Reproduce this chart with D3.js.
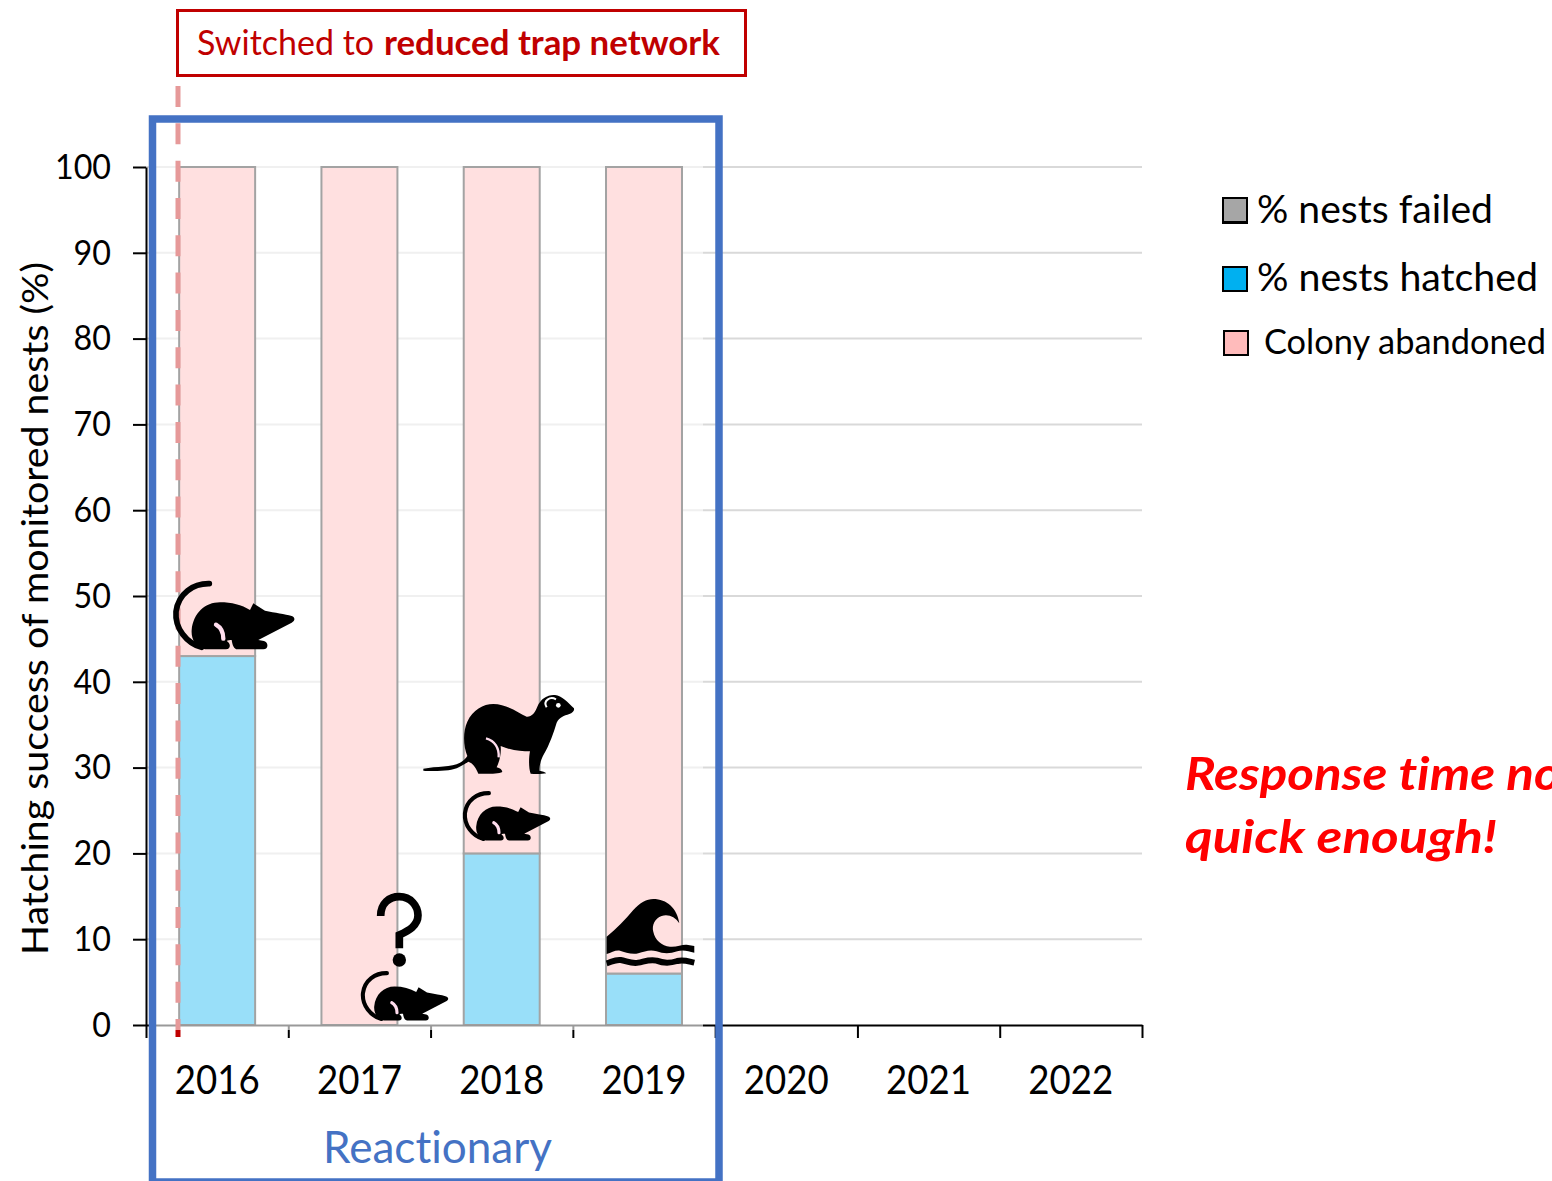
<!DOCTYPE html>
<html>
<head>
<meta charset="utf-8">
<script src="https://cdn.jsdelivr.net/npm/d3@7"></script>
<style>
html, body { margin: 0; padding: 0; background: #fff; overflow: hidden; }
svg { display: block; font-family: Lato, "Open Sans", sans-serif; font-variant-ligatures: none; }
</style>
</head>
<body>
<div id="chart"></div>
<script>
// chart values
const years = ["2016", "2017", "2018", "2019", "2020", "2021", "2022"];
const hatched = [43, 0, 20, 6, null, null, null];
const abandoned = [57, 100, 80, 94, null, null, null];
const failed = [0, 0, 0, 0, null, null, null];
const yTicks = [0, 10, 20, 30, 40, 50, 60, 70, 80, 90, 100];
const legendLabels = ["% nests failed", "% nests hatched", "Colony abandoned"];
const legendColors = ["#a6a6a6", "#00b0f0", "#ffbbbb"];
const legendWidths = [236, 281, 282];

var width = 1552;
var height = 1181;
var plot = { top: 167, right: 1142, bottom: 1025, left: 146 };

const svg = d3.select("#chart")
    .append("svg")
    .attr("width", width)
    .attr("height", height);

var xScale = d3.scaleBand()
    .domain(years)
    .range([plot.left, plot.right])
    .paddingInner(0.466)
    .paddingOuter(0.233);

var edgeScale = d3.scaleLinear()
    .domain([0, years.length])
    .range([plot.left, plot.right]);

var yScale = d3.scaleLinear()
    .domain([0, 100])
    .range([plot.bottom, plot.top]);

// squeeze Lato to the width of the original label
function fit(sel, len) {
    sel.attr("textLength", len).attr("lengthAdjust", "spacingAndGlyphs");
}

// gridlines
svg.append("g")
    .selectAll("line")
    .data(yTicks.slice(1))
    .enter()
    .append("line")
    .attr("x1", plot.left)
    .attr("x2", plot.right)
    .attr("y1", d => yScale(d))
    .attr("y2", d => yScale(d))
    .attr("stroke", "#d9d9d9")
    .attr("stroke-width", 2);

// stacked bars
var series = [
    { values: failed, fill: "#a6a6a6", base: () => 0 },
    { values: hatched, fill: "#00b0f0", base: i => failed[i] },
    { values: abandoned, fill: "#ffb2b2", base: i => failed[i] + hatched[i] }
];
series.forEach(function (s) {
    svg.append("g")
        .selectAll("rect")
        .data(years.filter((d, i) => s.values[i] > 0))
        .enter()
        .append("rect")
        .attr("x", d => xScale(d))
        .attr("width", xScale.bandwidth())
        .attr("y", d => {
            let i = years.indexOf(d);
            return yScale(s.base(i) + s.values[i]);
        })
        .attr("height", d => {
            let i = years.indexOf(d);
            return yScale(s.base(i)) - yScale(s.base(i) + s.values[i]);
        })
        .attr("fill", s.fill)
        .attr("stroke", "#1a1a1a")
        .attr("stroke-width", 2);
});

// axes
var yAxis = d3.axisLeft(yScale).tickValues(yTicks).tickSize(13).tickSizeOuter(0).tickPadding(22);
var yG = svg.append("g")
    .attr("transform", "translate(" + plot.left + ",0)")
    .call(yAxis);
yG.selectAll("text").attr("font-size", 35).attr("fill", "#000").style("font-family", "Lato");
yG.selectAll("text").each(function (d) { d3.select(this).call(fit, d == 100 ? 56 : d == 0 ? 18.7 : 37.4); });
yG.selectAll("line, path").attr("stroke", "#000").attr("stroke-width", 2);

var edgeAxis = d3.axisBottom(edgeScale).ticks(years.length).tickSize(13).tickSizeOuter(0).tickFormat("");
var xG = svg.append("g")
    .attr("transform", "translate(0," + plot.bottom + ")")
    .call(edgeAxis);
xG.selectAll("line, path").attr("stroke", "#000").attr("stroke-width", 2);

svg.append("g")
    .selectAll("text")
    .data(years)
    .enter()
    .append("text")
    .attr("x", d => xScale(d) + xScale.bandwidth() / 2)
    .attr("y", 1094)
    .attr("text-anchor", "middle")
    .attr("font-size", 40)
    .attr("fill", "#000")
    .text(d => d)
    .call(fit, 85);

svg.append("text")
    .attr("transform", "translate(48,608.5) rotate(-90)")
    .attr("text-anchor", "middle")
    .attr("font-size", 36)
    .attr("fill", "#000")
    .text("Hatching success of monitored nests (%)")
    .call(fit, 693);

// dashed marker for the switch
svg.append("line")
    .attr("x1", 178).attr("x2", 178)
    .attr("y1", 86).attr("y2", 1037)
    .attr("stroke", "#c00000")
    .attr("stroke-width", 5)
    .attr("stroke-dasharray", "21 16.32");

// white veil over the reactionary years
svg.append("rect")
    .attr("x", 153).attr("y", 78)
    .attr("width", 550).attr("height", 952)
    .attr("fill", "#fff")
    .attr("fill-opacity", 0.6);

// blue box
svg.append("rect")
    .attr("x", 152.5).attr("y", 119)
    .attr("width", 566.5).attr("height", 1063)
    .attr("fill", "none")
    .attr("stroke", "#4472c4")
    .attr("stroke-width", 7.5);

svg.append("text")
    .attr("x", 323).attr("y", 1163)
    .attr("font-size", 44)
    .attr("fill", "#4472c4")
    .text("Reactionary")
    .call(fit, 229);

// note box
svg.append("rect")
    .attr("x", 177.5).attr("y", 10.5)
    .attr("width", 568).attr("height", 65)
    .attr("fill", "#fff")
    .attr("stroke", "#c00000")
    .attr("stroke-width", 3);
svg.append("text")
    .attr("x", 197).attr("y", 55)
    .attr("font-size", 34)
    .attr("fill", "#c00000")
    .text("Switched to")
    .call(fit, 177);
svg.append("text")
    .attr("x", 384).attr("y", 55)
    .attr("font-size", 34)
    .attr("font-weight", 700)
    .attr("fill", "#c00000")
    .text("reduced trap network")
    .call(fit, 336);

// legend
var legend = svg.append("g")
    .selectAll("g")
    .data(legendLabels)
    .enter()
    .append("g");
legend.append("rect")
    .attr("x", (d, i) => i == 2 ? 1224 : 1223)
    .attr("y", (d, i) => [198, 267, 331][i])
    .attr("width", 24)
    .attr("height", 24)
    .attr("fill", (d, i) => legendColors[i])
    .attr("stroke", "#000")
    .attr("stroke-width", 2);
legend.append("text")
    .attr("x", (d, i) => i == 2 ? 1264 : 1257)
    .attr("y", (d, i) => [223, 291, 354][i])
    .attr("font-size", (d, i) => i == 2 ? 34 : 39)
    .attr("fill", "#000")
    .text(d => d)
    .each(function (d, i) { d3.select(this).call(fit, legendWidths[i]); });
// heavier bottom edge on the grey swatch
svg.append("line")
    .attr("x1", 1222).attr("x2", 1248)
    .attr("y1", 222.5).attr("y2", 222.5)
    .attr("stroke", "#000")
    .attr("stroke-width", 3);

// comment on the right, runs off the page like the original
svg.append("text")
    .attr("x", 1185).attr("y", 790)
    .attr("font-size", 46)
    .attr("font-weight", 700)
    .attr("font-style", "italic")
    .attr("fill", "#ff0000")
    .text("Response time not")
    .call(fit, 394);
svg.append("text")
    .attr("x", 1185).attr("y", 853)
    .attr("font-size", 46)
    .attr("font-weight", 700)
    .attr("font-style", "italic")
    .attr("fill", "#ff0000")
    .text("quick enough!")
    .call(fit, 312);

// icons, outlines traced at 3x
var ratBody = "M225,268 C195,262 183,235 185,210 C190,160 225,127 270,127 C305,127 335,135 360,150 L370,130 L405,152 C435,158 465,162 485,168 C496,172 496,182 485,188 L385,240 L402,243 C416,247 416,268 400,268 L322,268 C312,268 307,255 305,240 C300,240 293,240 290,243 C303,250 303,268 288,268 Z";
var ratTail = "M238,71 C190,70 145,100 138,155 C134,205 170,250 215,262";
var ratLeg = "M258,194 C272,202 280,215 280,236";

function drawRat(tx, ty, s) {
    let g = svg.append("g").attr("transform", "translate(" + tx + "," + ty + ") scale(" + s + ")");
    g.append("path").attr("d", ratTail).attr("fill", "none").attr("stroke", "#000")
        .attr("stroke-width", 17).attr("stroke-linecap", "round");
    g.append("path").attr("d", ratBody).attr("fill", "#000");
    g.append("path").attr("d", ratLeg).attr("fill", "none").attr("stroke", "#fde")
        .attr("stroke-width", 13).attr("stroke-linecap", "round");
}
drawRat(130, 560, 1 / 3);
drawRat(431.8, 776.1, 0.24);
drawRat(329.8, 956.1, 0.24);

// ferret, coords from the crop at (410,680)
var ferret = svg.append("g").attr("transform", "translate(410,680) scale(0.3333)");
ferret.append("path")
    .attr("d", "M40,266 C80,258 125,262 150,248 C160,243 168,235 172,228 C160,200 158,155 172,125 C188,90 220,72 250,72 C290,72 325,98 350,110 C365,111 375,98 382,80 C392,55 415,43 435,45 C455,47 475,68 492,85 C494,92 487,99 478,102 C462,107 448,112 440,128 C432,155 418,195 402,222 C392,240 388,258 388,272 C398,274 405,276 409,280 C395,283 375,283 362,281 C356,265 356,235 360,214 C335,214 305,212 272,198 C274,218 270,240 260,262 C270,264 277,270 277,276 C265,282 225,282 205,281 C198,265 190,250 175,245 C160,255 140,268 115,271 C90,274 60,274 40,272 Z")
    .attr("fill", "#000");
ferret.append("path")
    .attr("d", "M410,82 C398,62 420,48 438,58")
    .attr("fill", "none").attr("stroke", "#fff").attr("stroke-width", 6);
ferret.append("circle").attr("cx", 445).attr("cy", 76).attr("r", 7).attr("fill", "#fff");
ferret.append("path")
    .attr("d", "M228,175 C255,182 268,205 266,232")
    .attr("fill", "none").attr("stroke", "#fde").attr("stroke-width", 7);

// question mark and wave, coords from the crop at (340,880)
var crop = svg.append("g").attr("transform", "translate(340,880) scale(0.3333)");
crop.append("path")
    .attr("d", "M122,108 C122,70 148,50 178,50 C212,50 234,78 234,106 C234,138 205,152 178,165 L178,205")
    .attr("fill", "none").attr("stroke", "#000").attr("stroke-width", 23);
crop.append("circle").attr("cx", 178).attr("cy", 240).attr("r", 20).attr("fill", "#000");
crop.append("path")
    .attr("d", "M800,170 C830,145 855,120 880,90 C900,68 920,57 940,57 C980,57 1012,85 1018,130 C1005,110 985,102 965,108 C945,115 935,135 940,155 C945,180 965,197 990,200 C1010,202 1025,193 1040,194 L1063,198 L1063,218 C1045,214 1030,208 1012,214 C990,222 970,222 950,214 C930,208 915,214 895,220 C875,225 855,216 840,212 C825,210 815,218 800,222 Z")
    .attr("fill", "#000");
crop.append("path")
    .attr("d", "M800,250 C815,246 825,238 842,240 C860,243 875,252 895,248 C915,244 930,237 950,242 C970,250 990,250 1012,243 C1030,238 1045,244 1063,248")
    .attr("fill", "none").attr("stroke", "#000").attr("stroke-width", 18);
</script>
</body>
</html>
